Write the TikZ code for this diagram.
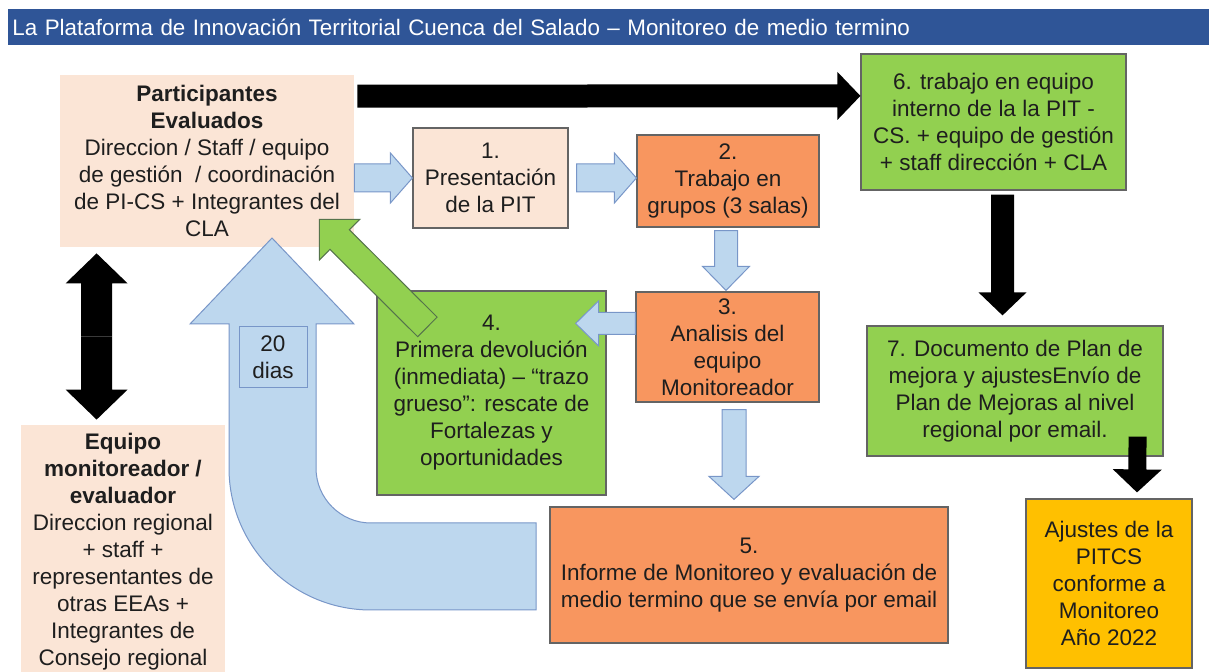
\documentclass[tikz,border=0pt]{standalone}
\usepackage{fontspec}
\setmainfont{Liberation Sans}
\usepackage{tikz}
\usetikzlibrary{calc}

\definecolor{titleblue}{RGB}{47,85,151}
\definecolor{peach}{RGB}{251,229,214}
\definecolor{salmon}{RGB}{248,150,95}
\definecolor{leaf}{RGB}{146,208,80}
\definecolor{gold}{RGB}{255,192,0}
\definecolor{skyfill}{RGB}{189,215,238}
\definecolor{skyline}{RGB}{120,150,200}
\definecolor{leafline}{RGB}{85,115,75}
\definecolor{boxgray}{RGB}{100,100,100}
\definecolor{ink}{RGB}{30,30,30}

% block arrow: [style]{tail}{tip}{half shaft}{half head}{head length}
\newcommand{\blockarrow}[6][]{%
  \coordinate (ba-t) at (#2);
  \coordinate (ba-p) at (#3);
  \coordinate (ba-h) at ($(ba-p)!#6!(ba-t)$);
  \filldraw[#1] ($(ba-t)!#4!90:(ba-p)$) -- ($(ba-h)!#4!-90:(ba-t)$)
    -- ($(ba-h)!#5!-90:(ba-t)$) -- (ba-p) -- ($(ba-h)!#5!90:(ba-t)$)
    -- ($(ba-h)!#4!90:(ba-t)$) -- ($(ba-t)!#4!-90:(ba-p)$) -- cycle;
}

\begin{document}
\begin{tikzpicture}[x=0.5pt, y=-0.5pt,
        txt/.style={inner sep=0pt, align=center, text=ink,
          font=\fontsize{11.25pt}{13.5pt}\selectfont},
        plainbox/.style={txt, fill=peach},
        peachbox/.style={txt, fill=peach, draw=boxgray, line width=0.6pt},
        orangebox/.style={txt, fill=salmon, draw=boxgray, line width=0.6pt},
        greenbox/.style={txt, fill=leaf, draw=boxgray, line width=0.6pt},
        yellowbox/.style={txt, fill=gold, draw=boxgray, line width=0.6pt},
        bluearrow/.style={fill=skyfill, draw=skyline, line width=0.5pt},
        blackarrow/.style={fill=black, draw=none},
        greenarrow/.style={fill=leaf, draw=leafline, line width=0.5pt}]
        \useasboundingbox (0,0) rectangle (1209,672);

        % title bar
        \node[anchor=north west, fill=titleblue, text=white, minimum width=600.5pt,
          minimum height=18pt, text width=596.5pt, inner xsep=2pt, inner ysep=0pt,
          align=left, font=\fontsize{11.2pt}{13pt}\selectfont] (title) at (8,9)
          {La Plataforma de Innovación Territorial Cuenca del Salado – Monitoreo de medio termino};

        % boxes
        \node[plainbox, minimum width=147pt, minimum height=86pt] (part) at (207,161)
          {\textbf{Participantes}\\ \textbf{Evaluados}\\ Direccion / Staff / equipo\\
           de gestión \ / coordinación\\ de PI-CS + Integrantes del\\ CLA};
        \node[plainbox, minimum width=102pt, minimum height=126.5pt] (equipo) at (123,551.5)
          {\textbf{Equipo}\\ \textbf{monitoreador /}\\ \textbf{evaluador}\\ Direccion regional\\
           + staff +\\ representantes de\\ otras EEAs +\\ Integrantes de\\ Consejo regional};
        \node[peachbox, minimum width=77.5pt, minimum height=50pt] (pres) at (490.5,178)
          {1.\\ Presentación\\ de la PIT};
        \node[orangebox, minimum width=91pt, minimum height=46pt] (trab) at (728,181)
          {2.\\ Trabajo en\\ grupos (3 salas)};
        \node[orangebox, minimum width=91.5pt, minimum height=55pt] (anal) at (727.5,347)
          {3.\\ Analisis del\\ equipo\\ Monitoreador};
        \node[greenbox, minimum width=114.5pt, minimum height=102pt] (prim) at (491.5,393)
          {4.\\ Primera devolución\\ (inmediata) – “trazo\\ grueso”: rescate de\\
           Fortalezas y\\ oportunidades};
        \node[orangebox, minimum width=199pt, minimum height=68pt] (inf) at (749,575)
          {5.\\ Informe de Monitoreo y evaluación de\\ medio termino que se envía por email};
        \node[greenbox, minimum width=132.5pt, minimum height=68pt] (equint) at (993.5,122)
          {6. trabajo en equipo\\ interno de la la PIT -\\ CS. + equipo de gestión\\
           + staff dirección + CLA};
        \node[greenbox, minimum width=148pt, minimum height=65pt] (plan) at (1015,391)
          {7. Documento de Plan de\\ mejora y ajustesEnvío de\\ Plan de Mejoras al nivel\\
           regional por email.};
        \node[yellowbox, minimum width=83pt, minimum height=84.5pt] (ajus) at (1109,583.5)
          {Ajustes de la\\ PITCS\\ conforme a\\ Monitoreo\\ Año 2022};

        % flow arrows
        \blockarrow[bluearrow]{part.east |- pres.west}{pres.west}{7pt}{12.5pt}{11pt}
        \blockarrow[bluearrow]{$(pres.east)+(8,0)$}{pres.east -| trab.west}{7pt}{12.5pt}{11pt}
        \blockarrow[bluearrow]{$(trab.south)+(-2,3)$}{$(anal.north)+(-1.5,-1)$}{5.75pt}{11.75pt}{12pt}
        \blockarrow[bluearrow]{$(anal.north west)+(0,32)$}{$(prim.north east)+(-31,33)$}{5.5pt}{11.25pt}{11.5pt}
        \blockarrow[bluearrow]{$(anal.south)+(6.5,7)$}{$(inf.north)+(-15,-7)$}{6pt}{12.5pt}{11.5pt}
        \blockarrow[blackarrow]{$(part.north east)+(3,21.5)$}{$(equint.north west)+(0,42.5)$}{5.75pt}{12pt}{11.5pt}
        \blockarrow[blackarrow]{$(equint.south)+(9,4)$}{$(plan.north)+(-12.5,-10)$}{5.75pt}{12pt}{11.5pt}
        \blockarrow[blackarrow]{$(plan.south east)+(-26,-20)$}{$(ajus.north)+(28,-6)$}{4.5pt}{12.25pt}{11.5pt}
        \blockarrow[greenarrow]{$(prim.north west)+(51,36.5)$}{$(part.south east)+(-35,-28)$}{6.9pt}{14.3pt}{14.3pt}

        % two-way arrow between the teams
        \coordinate (dtop) at ($(part.south west)+(37,6)$);
        \coordinate (dbot) at ($(equipo.north west)+(76,-5)$);
        \coordinate (dmid) at ($(dtop)!0.5!(dbot)$);
        \blockarrow[blackarrow]{dmid}{dtop}{7.75pt}{15.5pt}{15pt}
        \blockarrow[blackarrow]{dmid}{dbot}{7.75pt}{15.5pt}{15pt}

        % return arrow from the report
        \draw[bluearrow] (536,523) -- (371,523) arc[start angle=90, end angle=180, radius=55]
          -- (316,324) -- (354,324) -- (272,238) -- (190,324) -- (229,324) -- (229,468)
          arc[start angle=180, end angle=90, radius=142] -- (536,610) -- cycle;
        \node[txt, fill=skyfill, draw=skyline, line width=0.5pt, minimum width=34pt,
          minimum height=30.5pt] (dias) at (273,357.5) {20\\ dias};
\end{tikzpicture}
\end{document}
